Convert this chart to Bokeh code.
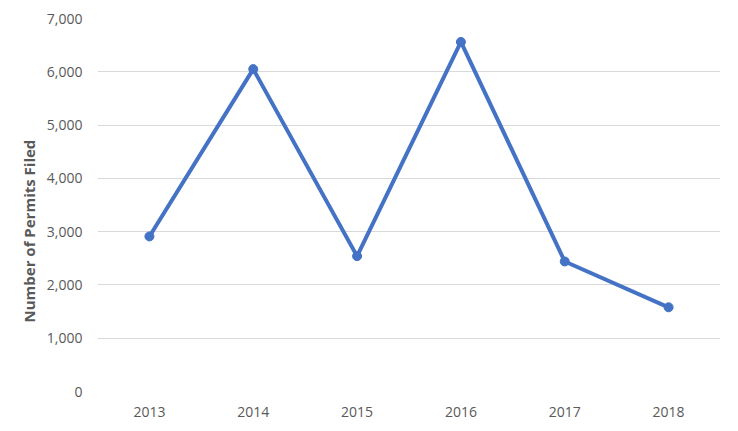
from bokeh.plotting import figure
from bokeh.models import Range1d, FactorRange, Title, NumeralTickFormatter
from bokeh.embed import file_html
from bokeh.resources import INLINE

years = ["2013", "2014", "2015", "2016", "2017", "2018"]
permits = [2910, 6050, 2540, 6560, 2440, 1580]
y_ticks = [0, 1000, 2000, 3000, 4000, 5000, 6000, 7000]
y_title = "Number of Permits Filed"

FONT = "Open Sans"
TXT = "#595959"
GRID = "#d9d9d9"
BLUE = "#4472C4"

p = figure(width=722, height=427, x_range=FactorRange(factors=years, range_padding=0),
           y_range=Range1d(0, 7000), output_backend="svg", toolbar_location=None,
           min_border_left=97, min_border_right=2, min_border_top=18, min_border_bottom=36)
p.outline_line_color = None
p.background_fill_color = "white"
p.border_fill_color = "white"

p.line(x=years, y=permits, line_color=BLUE, line_width=4)
p.scatter(x=years, y=permits, size=9, fill_color=BLUE, line_color=BLUE)

p.xgrid.grid_line_color = None
p.ygrid.grid_line_color = GRID
p.ygrid.grid_line_width = 1
p.yaxis.ticker = y_ticks
p.yaxis.formatter = NumeralTickFormatter(format="0,0")

for ax in (p.xaxis[0], p.yaxis[0]):
    ax.axis_line_color = None
    ax.major_tick_line_color = None
    ax.minor_tick_line_color = None
    ax.major_tick_in = 0
    ax.major_tick_out = 0
    ax.major_label_text_font = FONT
    ax.major_label_text_font_size = "14px"
    ax.major_label_text_color = TXT

p.yaxis.major_label_standoff = 15
p.xaxis.major_label_standoff = 15

title = Title(text=y_title, align="left", offset=69, text_font=FONT,
              text_font_size="15px", text_font_style="bold", text_color=TXT)
p.add_layout(title, "left")

open("out.html", "w").write(file_html(p, INLINE))
